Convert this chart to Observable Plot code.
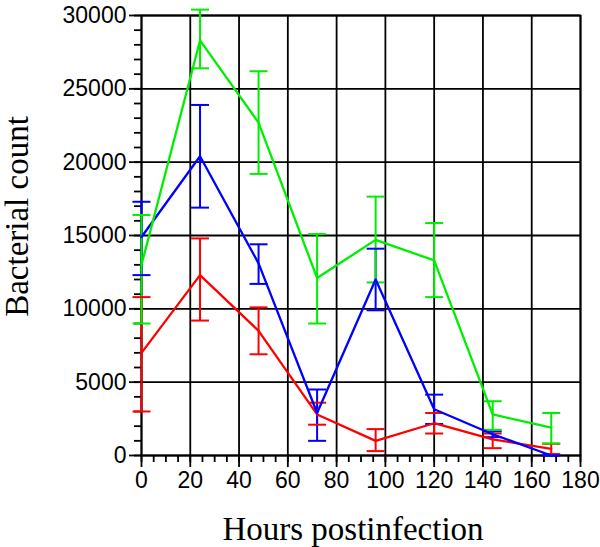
<!DOCTYPE html>
<html>
<head>
<meta charset="utf-8">
<script src="https://cdn.jsdelivr.net/npm/d3@7"></script>
<script src="https://cdn.jsdelivr.net/npm/@observablehq/plot@0.6"></script>
<style>
  html, body { margin: 0; padding: 0; background: #fff; }
</style>
</head>
<body>
<div id="chart"></div>
<script>
const hours = [0, 24, 48, 72, 96, 120, 144, 168];
const seriesNames = ["Series A", "Series B", "Series C"];
const seriesColors = ["#ff0000", "#0000ff", "#00ee00"];

const redMean = [7000, 12300, 8500, 2800, 1000, 2200, 1100, 450];
const redLo   = [3000, 9200, 6900, 2100, 300, 1500, 500, 100];
const redHi   = [10800, 14800, 10100, 3600, 1800, 2900, 1500, 800];

const blueMean = [14900, 20400, 13100, 2900, 12000, 3150, 1450, 0];
const blueLo   = [12300, 16900, 11700, 1000, 9900, 2150, 1250, 0];
const blueHi   = [17300, 23900, 14400, 4500, 14100, 4150, 1650, 0];

const greenMean = [13000, 28300, 22700, 12100, 14700, 13300, 2800, 1900];
const greenLo   = [9000, 26400, 19200, 9000, 11800, 10800, 1750, 820];
const greenHi   = [16400, 30400, 26200, 15100, 17650, 15850, 3700, 2900];

const xMajor = [0, 20, 40, 60, 80, 100, 120, 140, 160, 180];
const xMinor = d3.range(0, 181, 5);
const yMajor = [0, 5000, 10000, 15000, 20000, 25000, 30000];
const yMinor = d3.range(0, 30001, 1000);

const xTitle = "Hours postinfection";
const yTitle = "Bacterial count";

const stats = [
  [redMean, redLo, redHi],
  [blueMean, blueLo, blueHi],
  [greenMean, greenLo, greenHi]
];
const data = [];
stats.forEach(([m, lo, hi], s) => {
  hours.forEach((h, i) => {
    data.push({series: seriesNames[s], t: h, v: m[i], lo: lo[i], hi: hi[i]});
  });
});
const caps = data.flatMap(d => [{series: d.series, t: d.t, v: d.lo}, {series: d.series, t: d.t, v: d.hi}]);

const capSymbol = {
  draw(context, size) {
    const r = Math.sqrt(size / Math.PI);
    context.moveTo(-r, 0);
    context.lineTo(r, 0);
  }
};

const tickFont = "'Liberation Sans', Arial, Helvetica, sans-serif";
const titleFont = "'Liberation Serif', 'Times New Roman', Times, serif";

const chart = Plot.plot({
  width: 600,
  height: 547,
  marginLeft: 141,
  marginRight: 20,
  marginTop: 15,
  marginBottom: 92,
  style: {fontFamily: tickFont, fontSize: "23px", color: "#000", background: "#fff"},
  x: {domain: [0, 180], label: null},
  y: {domain: [0, 30000], label: null},
  color: {domain: seriesNames, range: seriesColors},
  marks: [
    Plot.gridX(xMajor, {stroke: "#000", strokeOpacity: 1, strokeWidth: 1.8}),
    Plot.gridY(yMajor, {stroke: "#000", strokeOpacity: 1, strokeWidth: 1.8}),
    Plot.frame({stroke: "#000", strokeWidth: 1.8}),
    Plot.axisX({ticks: xMinor, tickSize: 7, tickFormat: () => "", label: null, strokeWidth: 1.8}),
    Plot.axisY({ticks: yMinor, tickSize: 7, tickFormat: () => "", label: null, strokeWidth: 1.8}),
    Plot.axisX({ticks: xMajor, tickSize: 12, tickPadding: 4, tickFormat: d3.format("d"), label: null, strokeWidth: 1.8, fontSize: 23}),
    Plot.axisY({ticks: yMajor, tickSize: 12, tickPadding: 3, tickFormat: d3.format("d"), label: null, strokeWidth: 1.8, fontSize: 23}),
    Plot.ruleX(data, {x: "t", y1: "lo", y2: "hi", stroke: "series", strokeWidth: 2}),
    Plot.dot(caps, {x: "t", y: "v", stroke: "series", symbol: capSymbol, r: 9, strokeWidth: 2, fill: "none"}),
    Plot.line(data, {x: "t", y: "v", z: "series", stroke: "series", strokeWidth: 2.3}),
    Plot.text([xTitle], {frameAnchor: "bottom", textAnchor: "middle", lineAnchor: "middle", dx: -8, dy: 74, fontFamily: titleFont, fontSize: 33, letterSpacing: "0.5px", fill: "#000"}),
    Plot.text([yTitle], {frameAnchor: "left", textAnchor: "middle", lineAnchor: "middle", rotate: -90, dx: -124, dy: -19, fontFamily: titleFont, fontSize: 33, fill: "#000"})
  ]
});
document.getElementById("chart").appendChild(chart);
</script>
</body>
</html>
